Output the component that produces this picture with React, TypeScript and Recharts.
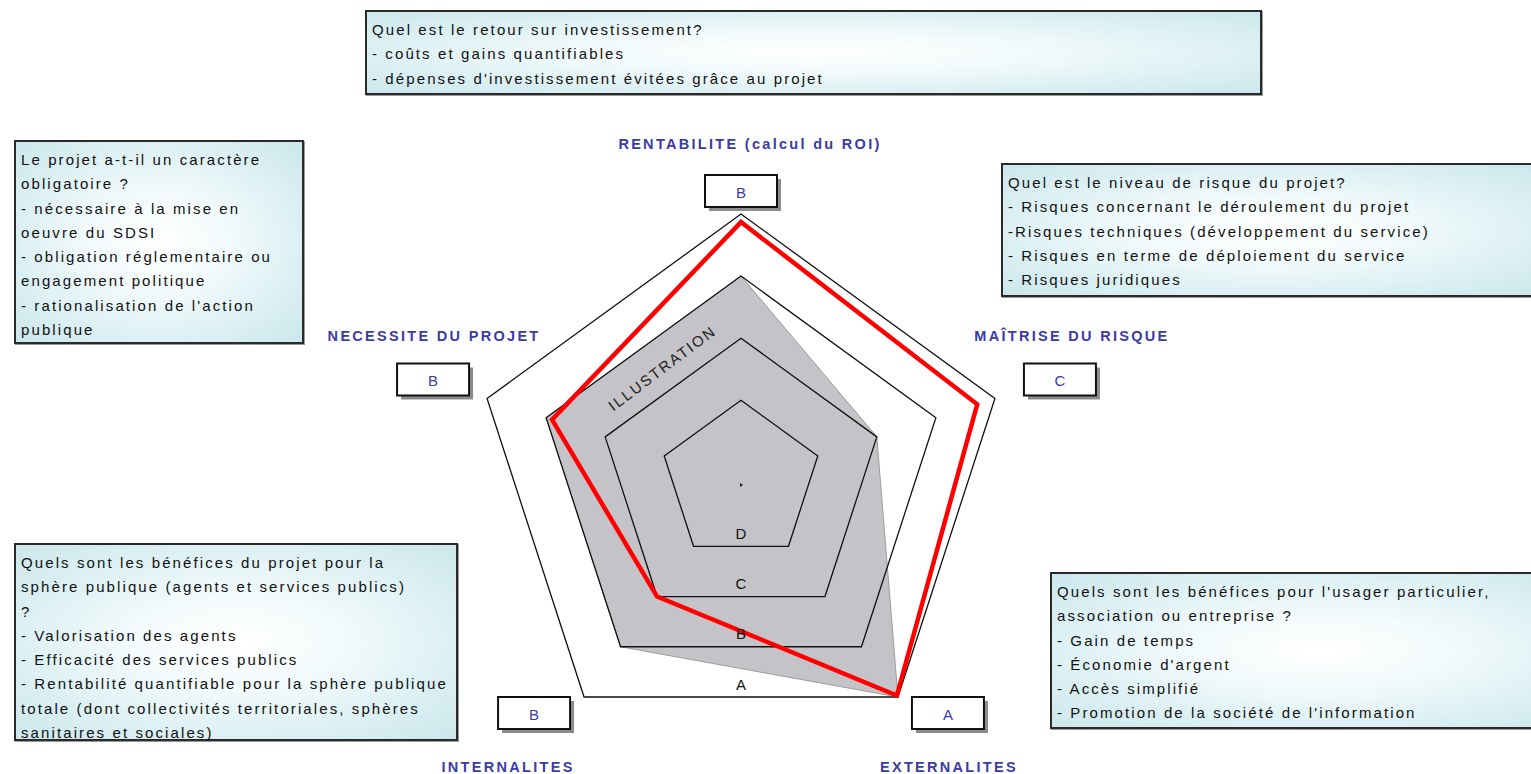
import React from "react";
import { RadarChart, Radar, PolarGrid, PolarAngleAxis, PolarRadiusAxis } from "recharts";

// ---------- data ----------
const axisLabels = [
  "RENTABILITE (calcul du ROI)",
  "MAÎTRISE DU RISQUE",
  "EXTERNALITES",
  "INTERNALITES",
  "NECESSITE DU PROJET",
];
const axisGrades = ["B", "C", "A", "B", "B"];
const gradeLetters = ["D", "C", "B", "A"];
const gradeTicks = [1, 2, 3, 4];
const projectValues = [3.87, 3.7, 3.97, 2.0, 2.9];

const profileValues = axisGrades.map((g) => gradeTicks[gradeLetters.indexOf(g)]);

const data = axisLabels.map((axis, i) => ({
  axis,
  grade: axisGrades[i],
  profile: profileValues[i],
  project: projectValues[i],
}));

const topText = [
  "Quel est le retour sur investissement?",
  "- coûts et gains quantifiables",
  "- dépenses d'investissement évitées grâce au projet",
];
const leftText = [
  "Le projet a-t-il un caractère",
  "obligatoire ?",
  "- nécessaire à la mise en",
  "oeuvre du SDSI",
  "- obligation réglementaire ou",
  "engagement politique",
  "- rationalisation de l'action",
  "publique",
];
const rightText = [
  "Quel est le niveau de risque du projet?",
  "- Risques concernant le déroulement du projet",
  "-Risques techniques (développement du service)",
  "- Risques en terme de déploiement du service",
  "- Risques juridiques",
];
const bottomLeftText = [
  "Quels sont les bénéfices du projet pour la",
  "sphère publique (agents et services publics)",
  "?",
  "- Valorisation des agents",
  "- Efficacité des services publics",
  "- Rentabilité quantifiable pour la sphère publique",
  "totale (dont collectivités territoriales, sphères",
  "sanitaires et sociales)",
];
const bottomRightText = [
  "Quels sont les bénéfices pour l'usager particulier,",
  "association ou entreprise ?",
  "- Gain de temps",
  "- Économie d'argent",
  "- Accès simplifié",
  "- Promotion de la société de l'information",
];

// ---------- layout ----------
const W = 1531;
const H = 774;
const CX = 741;
const CY = 481;
const R = 267;
const RADIUS_DOMAIN: [number, number] = [-0.3, 4];
const FONT = "'Liberation Sans', Arial, sans-serif";
const BLUE = "#3b3ba6";

const labelLayout = [
  { bx: 0, by: -23, tx: 9, ty: -70 },
  { bx: 65, by: -19, tx: 77, ty: -62 },
  { bx: 50, by: 16, tx: 51, ty: 70 },
  { bx: -50, by: 16, tx: -76, ty: 70 },
  { bx: -54, by: -19, tx: -53, ty: -62 },
];

function AngleTick(props: any) {
  const { payload } = props;
  const i = axisLabels.indexOf(payload.value);
  const ang = (payload.coordinate * Math.PI) / 180;
  const vx = CX + R * Math.cos(ang);
  const vy = CY - R * Math.sin(ang);
  const L = labelLayout[i];
  const bw = 72;
  const bh = 32;
  const bx = vx + L.bx - bw / 2;
  const by = vy + L.by - bh / 2;
  return (
    <g>
      <rect x={bx + 4} y={by + 4} width={bw} height={bh} fill="#8c8c8c" />
      <rect x={bx} y={by} width={bw} height={bh} fill="#ffffff" stroke="#111" strokeWidth={2} />
      <text
        x={vx + L.bx}
        y={vy + L.by + 1}
        textAnchor="middle"
        dominantBaseline="central"
        fill={BLUE}
        fontFamily={FONT}
        fontSize={15}
      >
        {data[i].grade}
      </text>
      <text
        x={vx + L.tx}
        y={vy + L.ty}
        textAnchor="middle"
        dominantBaseline="central"
        fill={BLUE}
        fontFamily={FONT}
        fontSize={14.5}
        fontWeight={600}
        letterSpacing={2.3}
      >
        {payload.value}
      </text>
    </g>
  );
}

function RingTick(props: any) {
  const { x, y, payload } = props;
  const r = Math.hypot(x - CX, y - CY);
  const ly = CY + r * Math.cos((36 * Math.PI) / 180) - 13;
  const idx = gradeTicks.indexOf(payload.value);
  return (
    <text
      x={CX}
      y={ly}
      textAnchor="middle"
      dominantBaseline="central"
      fill="#111"
      fontFamily={FONT}
      fontSize={15}
    >
      {gradeLetters[idx]}
    </text>
  );
}

function InfoBox({
  lines,
  left,
  top,
  width,
  height,
}: {
  lines: string[];
  left: number;
  top: number;
  width: number;
  height: number;
}) {
  return (
    <div
      style={{
        position: "absolute",
        left,
        top,
        width,
        height,
        boxSizing: "border-box",
        border: "2px solid #2a2a2a",
        boxShadow: "1px 1px 0 #9a9a9a",
        background:
          "radial-gradient(ellipse at center, #ffffff 0%, #f2fafb 35%, #dcf0f3 70%, #cbe7ec 100%)",
        padding: "6px 0 0 5px",
        fontFamily: FONT,
        fontSize: 15,
        letterSpacing: 2.1,
        lineHeight: "24.3px",
        color: "#111",
        whiteSpace: "nowrap",
      }}
    >
      {lines.map((l, i) => (
        <div key={i}>{l}</div>
      ))}
    </div>
  );
}

const layer: React.CSSProperties = { position: "absolute", left: 0, top: 0 };

export default function App() {
  return (
    <div
      style={{
        position: "absolute",
        left: 0,
        top: 0,
        width: W,
        height: H,
        overflow: "hidden",
        background: "#ffffff",
      }}
    >
      {/* bottom layer: filled profile */}
      <div style={layer}>
        <RadarChart
          width={W}
          height={H}
          data={data}
          cx={CX}
          cy={CY}
          outerRadius={R}
          margin={{ top: 0, right: 0, bottom: 0, left: 0 }}
        >
          <PolarRadiusAxis
            angle={-90}
            type="number"
            domain={RADIUS_DOMAIN}
            ticks={gradeTicks as any}
            axisLine={false}
            tickLine={false}
            tick={false}
          />
          <PolarAngleAxis dataKey="axis" tickLine={false} axisLine={false} tick={false} />
          <Radar
            dataKey="profile"
            fill="#c4c3c7"
            fillOpacity={1}
            stroke="#9c9c9c"
            strokeWidth={1}
            isAnimationActive={false}
          />
        </RadarChart>
      </div>
      {/* top layer: grid, ring labels, project line, axis labels */}
      <div style={layer}>
        <RadarChart
          width={W}
          height={H}
          data={data}
          cx={CX}
          cy={CY}
          outerRadius={R}
          margin={{ top: 0, right: 0, bottom: 0, left: 0 }}
        >
          <PolarGrid gridType="polygon" radialLines={false} stroke="#111" strokeWidth={1.3} />
          <PolarRadiusAxis
            angle={-90}
            type="number"
            domain={RADIUS_DOMAIN}
            ticks={gradeTicks as any}
            axisLine={false}
            tickLine={false}
            tick={<RingTick />}
          />
          <Radar
            dataKey="project"
            fill="none"
            fillOpacity={0}
            stroke="#ff0000"
            strokeWidth={4.5}
            strokeLinejoin="miter"
            isAnimationActive={false}
          />
          <PolarAngleAxis dataKey="axis" tickLine={false} axisLine={false} tick={<AngleTick />} />
        </RadarChart>
      </div>
      <svg width={W} height={H} style={{ ...layer, pointerEvents: "none" }}>
        <text
          x={662}
          y={368}
          textAnchor="middle"
          dominantBaseline="central"
          fontFamily={FONT}
          fontSize={15}
          letterSpacing={2}
          fill="#222"
          transform="rotate(-37 662 368)"
        >
          ILLUSTRATION
        </text>
        <path d={`M ${CX - 1} ${CY + 2} l 3 2 l -3 2 z`} fill="#222" />
      </svg>
      <InfoBox lines={topText} left={365} top={10} width={897} height={85} />
      <InfoBox lines={leftText} left={14} top={140} width={290} height={204} />
      <InfoBox lines={rightText} left={1001} top={163} width={540} height={134} />
      <InfoBox lines={bottomLeftText} left={14} top={543} width={444} height={198} />
      <InfoBox lines={bottomRightText} left={1050} top={572} width={540} height={157} />
    </div>
  );
}
